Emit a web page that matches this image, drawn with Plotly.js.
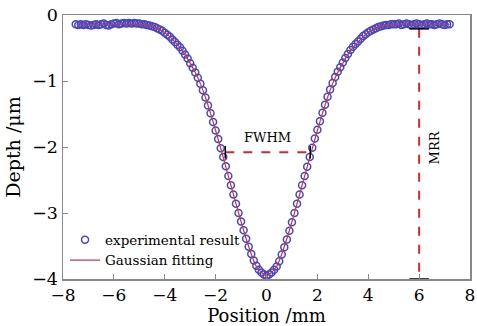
<!DOCTYPE html>
<html>
<head>
<meta charset="utf-8">
<script src="https://cdn.plot.ly/plotly-3.0.1.min.js"></script>
<style>html,body{margin:0;padding:0;background:#fff;}#chart{width:477px;height:326px;}</style>
</head>
<body>
<div id="chart"></div>
<script>
// Experimental result (Position mm, Depth um)
var expX = [-7.5,-7.4,-7.3,-7.2,-7.1,-7.0,-6.9,-6.8,-6.7,-6.6,-6.5,-6.4,-6.3,-6.2,-6.1,-6.0,-5.9,-5.8,-5.7,-5.6,-5.5,-5.4,-5.3,-5.2,-5.1,
  -5.0,-4.9,-4.8,-4.7,-4.6,-4.5,-4.4,-4.3,-4.2,-4.1,-4.0,-3.9,-3.8,-3.7,-3.6,-3.5,-3.4,-3.3,-3.2,-3.1,-3.0,-2.9,-2.8,-2.7,-2.6,-2.5,
  -2.4,-2.3,-2.2,-2.1,-2.0,-1.9,-1.8,-1.7,-1.6,-1.5,-1.4,-1.3,-1.2,-1.1,-1.0,-0.9,-0.8,-0.7,-0.6,-0.5,-0.4,-0.3,-0.2,-0.1,
  0.0,0.1,0.2,0.3,0.4,0.5,0.6,0.7,0.8,0.9,1.0,1.1,1.2,1.3,1.4,1.5,1.6,1.7,1.8,1.9,2.0,2.1,2.2,2.3,2.4,2.5,2.6,2.7,2.8,2.9,
  3.0,3.1,3.2,3.3,3.4,3.5,3.6,3.7,3.8,3.9,4.0,4.1,4.2,4.3,4.4,4.5,4.6,4.7,4.8,4.9,5.0,5.1,5.2,5.3,5.4,5.5,5.6,5.7,5.8,5.9,
  6.0,6.1,6.2,6.3,6.4,6.5,6.6,6.7,6.8,6.9,7.0,7.1,7.2];
var expY = [-0.14,-0.15,-0.14,-0.15,-0.14,-0.15,-0.16,-0.15,-0.14,-0.15,-0.14,-0.13,-0.15,-0.16,-0.14,-0.13,-0.12,-0.14,-0.13,-0.12,-0.13,-0.12,-0.13,-0.12,-0.13,
  -0.13,-0.14,-0.14,-0.15,-0.16,-0.17,-0.18,-0.20,-0.22,-0.24,-0.27,-0.30,-0.33,-0.37,-0.41,-0.45,-0.49,-0.54,-0.60,-0.66,-0.73,-0.80,-0.87,-0.95,-1.04,-1.14,
  -1.25,-1.37,-1.49,-1.62,-1.75,-1.88,-2.02,-2.15,-2.29,-2.44,-2.58,-2.72,-2.86,-3.00,-3.13,-3.26,-3.39,-3.51,-3.62,-3.72,-3.80,-3.86,-3.90,-3.93,
  -3.95,-3.93,-3.90,-3.86,-3.81,-3.73,-3.63,-3.52,-3.40,-3.27,-3.14,-3.00,-2.86,-2.72,-2.58,-2.44,-2.30,-2.15,-2.01,-1.87,-1.74,-1.61,-1.48,-1.36,-1.24,-1.13,-1.03,-0.94,-0.86,-0.79,
  -0.72,-0.65,-0.59,-0.53,-0.48,-0.44,-0.40,-0.36,-0.32,-0.29,-0.26,-0.24,-0.22,-0.20,-0.18,-0.17,-0.16,-0.15,-0.15,-0.14,-0.14,-0.14,-0.13,-0.15,-0.14,-0.13,-0.14,-0.15,-0.14,-0.13,
  -0.14,-0.15,-0.14,-0.13,-0.14,-0.14,-0.15,-0.14,-0.13,-0.14,-0.15,-0.14,-0.14];

// Gaussian fitting
var fitX = [-7.4,-7.0,-6.6,-6.2,-5.8,-5.4,-5.0,-4.8,-4.6,-4.4,-4.2,-4.0,-3.8,-3.6,-3.4,-3.2,-3.0,-2.8,-2.6,-2.4,-2.2,-2.0,-1.8,-1.6,-1.4,-1.2,-1.0,-0.8,-0.6,-0.4,-0.2,
  0.0,0.2,0.4,0.6,0.8,1.0,1.2,1.4,1.6,1.8,2.0,2.2,2.4,2.6,2.8,3.0,3.2,3.4,3.6,3.8,4.0,4.2,4.4,4.6,4.8,5.0,5.4,5.8,6.2,6.6,7.0,7.2];
var fitY = [-0.14,-0.14,-0.14,-0.14,-0.14,-0.14,-0.14,-0.145,-0.16,-0.18,-0.22,-0.27,-0.33,-0.41,-0.49,-0.60,-0.73,-0.87,-1.04,-1.25,-1.49,-1.75,-2.02,-2.30,-2.58,-2.86,-3.13,-3.39,-3.62,-3.81,-3.90,
  -3.95,-3.90,-3.81,-3.62,-3.39,-3.13,-2.86,-2.58,-2.30,-2.02,-1.75,-1.49,-1.25,-1.04,-0.87,-0.73,-0.60,-0.49,-0.41,-0.33,-0.27,-0.22,-0.18,-0.16,-0.145,-0.14,-0.14,-0.14,-0.14,-0.14,-0.14,-0.14];

// Annotation guides
var fwhmX = [-1.62, 1.72];
var fwhmY = [-2.08, -2.08];
var mrrX = [6.0, 6.0];
var mrrY = [-0.21, -4.0];

var xTicks = [-8,-6,-4,-2,0,2,4,6,8];
var yTicks = [0,-1,-2,-3,-4];

var FONT = '"DejaVu Serif", "Liberation Serif", serif';

var traces = [
  {x: expX, y: expY, type: 'scatter', mode: 'markers', name: 'experimental result',
   marker: {symbol: 'circle-open', size: 7, color: '#4646c4', line: {width: 1.5, color: '#4646c4'}}},
  {x: fitX, y: fitY, type: 'scatter', mode: 'lines', name: 'Gaussian fitting',
   line: {color: '#c23a48', width: 1.2, shape: 'spline'}},
  {x: fwhmX, y: fwhmY, type: 'scatter', mode: 'lines+markers', showlegend: false,
   line: {color: '#d42a2a', width: 2, dash: 'dash'},
   marker: {symbol: 'line-ns', size: 9, line: {width: 1.5, color: '#000'}}},
  {x: mrrX, y: mrrY, type: 'scatter', mode: 'lines+markers', showlegend: false,
   line: {color: '#d42a2a', width: 2, dash: 'dash'},
   marker: {symbol: 'line-ew', size: 14, line: {width: 1.5, color: '#000'}}}
];

var layout = {
  width: 477, height: 326,
  margin: {l: 63, r: 7, t: 15, b: 47},
  paper_bgcolor: '#fff', plot_bgcolor: '#fff',
  font: {family: FONT, color: '#000', size: 16},
  showlegend: true,
  legend: {x: 0.005, y: 0.01, xanchor: 'left', yanchor: 'bottom', bgcolor: 'rgba(0,0,0,0)',
           font: {family: FONT, size: 13.5}, tracegroupgap: 0, itemwidth: 30},
  xaxis: {range: [-8, 8], tickvals: xTicks, ticks: 'inside', ticklen: 5, tickcolor: '#888',
          showline: true, linecolor: '#888', linewidth: 1.5, mirror: true, showgrid: false, zeroline: false,
          tickfont: {family: FONT, size: 17},
          title: {text: 'Position /mm', font: {family: FONT, size: 18}, standoff: 4}},
  yaxis: {range: [-4, 0], tickvals: yTicks, ticks: 'inside', ticklen: 5, tickcolor: '#888',
          showline: true, linecolor: '#888', linewidth: 1.5, mirror: true, showgrid: false, zeroline: false,
          tickfont: {family: FONT, size: 17.5},
          title: {text: 'Depth /μm', font: {family: FONT, size: 19}, standoff: 6}},
  annotations: [
    {x: 0.05, y: -1.85, xref: 'x', yref: 'y', text: 'FWHM', showarrow: false, font: {family: FONT, size: 13}},
    {x: 6.6, y: -2.0, xref: 'x', yref: 'y', text: 'MRR', showarrow: false, textangle: -90, font: {family: FONT, size: 13}}
  ]
};

Plotly.newPlot('chart', traces, layout, {staticPlot: true, displayModeBar: false});
</script>
</body>
</html>
